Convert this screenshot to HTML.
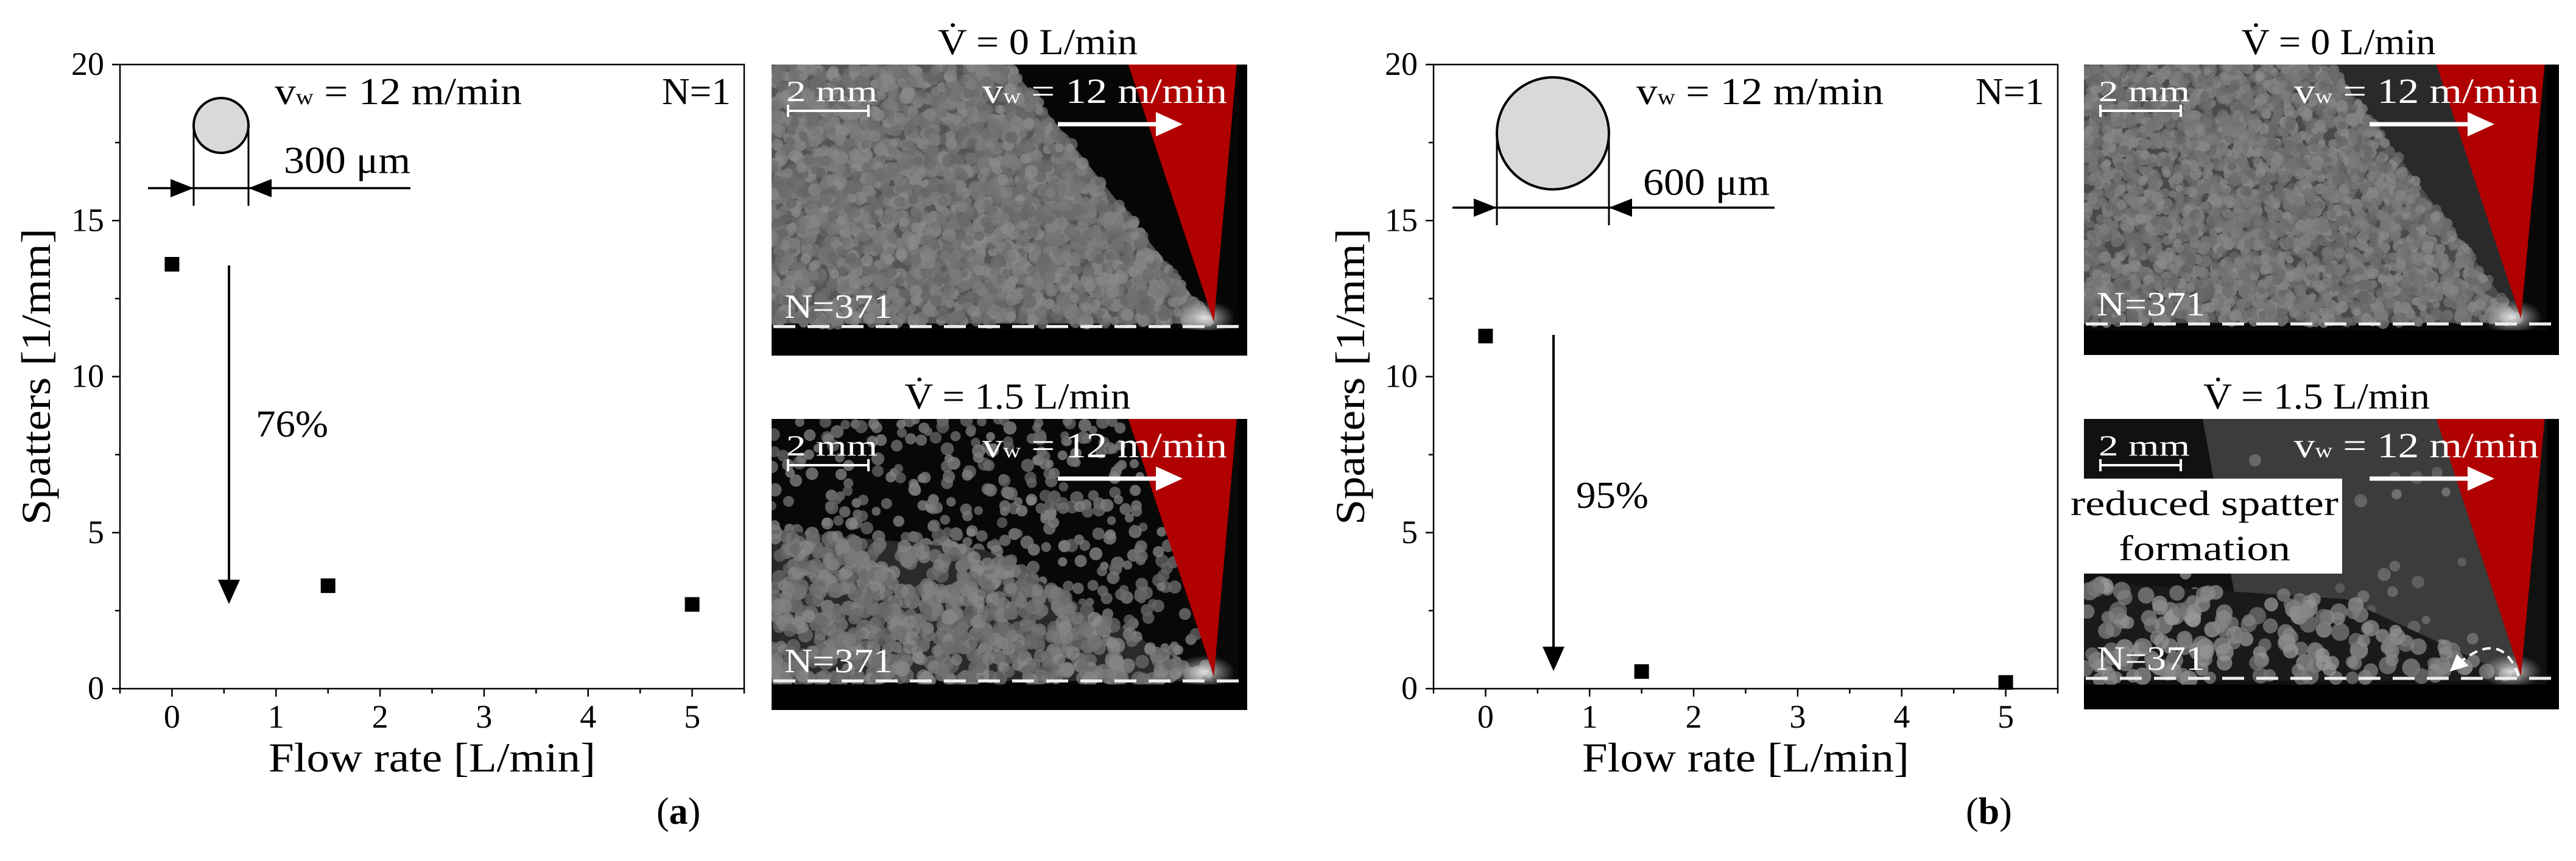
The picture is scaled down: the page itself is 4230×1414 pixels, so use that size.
<!DOCTYPE html>
<html><head><meta charset="utf-8">
<style>
html,body{margin:0;padding:0;background:#fff;}
svg{display:block;}
text{font-family:"Liberation Serif",serif;}
</style></head>
<body>
<svg id="fig" width="4230" height="1414" viewBox="0 0 4230 1414" xmlns="http://www.w3.org/2000/svg">
<defs>
<radialGradient id="glow" cx="50%" cy="50%" r="50%"><stop offset="0" stop-color="#eee" stop-opacity="0.9"/><stop offset="1" stop-color="#bbb" stop-opacity="0"/></radialGradient>
</defs>
</svg>
<script>
// ---- chart data ----
const flowRates = [0, 1.5, 5];
const spattersA = [13.6, 3.3, 2.7];
const spattersB = [11.3, 0.55, 0.2];
const xTicks = [0, 1, 2, 3, 4, 5];
const yTicks = [0, 5, 10, 15, 20];
const reductionA = "76%";
const reductionB = "95%";

const NS = "http://www.w3.org/2000/svg";
const svg = document.getElementById('fig');
function mk(tag, attrs, parent, txt){
  const e = document.createElementNS(NS, tag);
  for (const k in attrs) e.setAttribute(k, attrs[k]);
  if (txt !== undefined) e.textContent = txt;
  (parent || svg).appendChild(e);
  return e;
}
function fit(e, len){ e.setAttribute('textLength', len); e.setAttribute('lengthAdjust', 'spacingAndGlyphs'); }

function vwText(parent, x, y, size, fill, anchor, len){
  const t = mk('text', {x: x, y: y, 'font-size': size, fill: fill, 'text-anchor': anchor}, parent);
  
  
  mk('tspan', {}, t, 'v');
  mk('tspan', {'font-size': size * 0.58}, t, 'w');
  mk('tspan', {}, t, ' = 12 m/min');
  fit(t, len);
  return t;
}

function chart(L, R, T, B, vals, name, c, redTxt, redX, redY, arrowX, arrowTop, arrowBot, ytX) {
  const g = mk('g', {});
  
  
  const xs = v => L + (v + 0.5) / 6 * (R - L);
  const ys = v => B - v / 20 * (B - T);
  const ax = mk('rect', {x: L, y: T, width: R - L, height: B - T, fill: 'none', stroke: '#000', 'stroke-width': 2.5}, g);
  
  
  for (let v = -0.5; v <= 5.5001; v += 0.5) {
    const major = Math.abs(v - Math.round(v)) < 1e-6;
    mk('line', {x1: xs(v), x2: xs(v), y1: B, y2: B + (major ? 13 : 8), stroke: '#000', 'stroke-width': 2.5}, g);
  }
  xTicks.forEach(t => {
    const e = mk('text', {x: xs(t), y: B + 64, 'font-size': 54, 'text-anchor': 'middle'}, g, String(t));
    
    
  });
  for (let v = 0; v <= 20.001; v += 2.5) {
    const major = v % 5 === 0;
    mk('line', {x1: L, x2: L - (major ? 13 : 8), y1: ys(v), y2: ys(v), stroke: '#000', 'stroke-width': 2.5}, g);
  }
  yTicks.forEach(t => {
    const e = mk('text', {x: L - 26, y: ys(t) + 17, 'font-size': 54, 'text-anchor': 'end'}, g, String(t));
    
    
  });
  const xt = mk('text', {x: (L + R) / 2, y: B + 136, 'font-size': 68, 'text-anchor': 'middle'}, g, 'Flow rate [L/min]');
  fit(xt, 537);
  
  
  const yt = mk('text', {x: 0, y: 0, 'font-size': 68, 'text-anchor': 'middle', transform: `translate(${ytX},${(T + B) / 2}) rotate(-90)`}, g, 'Spatters [1/mm]');
  fit(yt, 487);
  
  
  flowRates.forEach((f, i) => {
    const m = mk('rect', {x: xs(f) - 12, y: ys(vals[i]) - 12, width: 24, height: 24, fill: '#000'}, g);
    
    
  });
  const ins = mk('g', {}, g);
  
  
  mk('line', {x1: c.cx - c.r, x2: c.cx - c.r, y1: c.cy, y2: c.lb, stroke: '#000', 'stroke-width': 3}, ins);
  mk('line', {x1: c.cx + c.r, x2: c.cx + c.r, y1: c.cy, y2: c.lb, stroke: '#000', 'stroke-width': 3}, ins);
  mk('circle', {cx: c.cx, cy: c.cy, r: c.r, fill: '#d9d9d9', stroke: '#000', 'stroke-width': 4}, ins);
  mk('line', {x1: c.hx1, x2: c.hx2, y1: c.hy, y2: c.hy, stroke: '#000', 'stroke-width': 3.5}, ins);
  const a = c.cx - c.r, b = c.cx + c.r;
  mk('polygon', {points: `${a},${c.hy} ${a-38},${c.hy-15} ${a-38},${c.hy+15}`, fill: '#000'}, ins);
  mk('polygon', {points: `${b},${c.hy} ${b+38},${c.hy-15} ${b+38},${c.hy+15}`, fill: '#000'}, ins);
  const dt = mk('text', {x: c.tx, y: c.ty, 'font-size': 62}, ins, c.label);
  fit(dt, 208);
  
  
  vwText(g, c.vx, 171, 62, '#000', 'start', 406);
  const n1 = mk('text', {x: R - 22, y: 171, 'font-size': 62, 'text-anchor': 'end'}, g, 'N=1');
  fit(n1, 113);
  
  
  const ar = mk('g', {}, g);
  
  
  mk('line', {x1: arrowX, x2: arrowX, y1: arrowTop, y2: arrowBot - 30, stroke: '#000', 'stroke-width': 4}, ar);
  mk('polygon', {points: `${arrowX},${arrowBot} ${arrowX-18},${arrowBot-40} ${arrowX+18},${arrowBot-40}`, fill: '#000'}, ar);
  const rt = mk('text', {x: redX, y: redY, 'font-size': 62}, g, redTxt);
  fit(rt, 119);
  
  
}

chart(197, 1222, 106, 1131, spattersA, 'spatter-chart-a',
  {cx: 363, cy: 206, r: 45, lb: 338, hy: 309, hx1: 243, hx2: 674, tx: 466, ty: 284, label: '300 μm', vx: 451},
  reductionA, 420, 717, 376, 436, 992, 82);
chart(2354, 3379, 106, 1131, spattersB, 'spatter-chart-b',
  {cx: 2550, cy: 219, r: 92, lb: 370, hy: 341, hx1: 2385, hx2: 2914, tx: 2698, ty: 320, label: '600 μm', vx: 2687},
  reductionB, 2588, 834, 2551, 550, 1102, 2240);

// ---- photo panels (decorative texture) ----
let seed = 7;
function rnd(){ seed = (seed * 16807) % 2147483647; return seed / 2147483647; }
function inPoly(x, y, p){ let c=false; for(let i=0,j=p.length-1;i<p.length;j=i++){ if(((p[i][1]>y)!=(p[j][1]>y)) && (x < (p[j][0]-p[i][0])*(y-p[i][1])/(p[j][1]-p[i][1])+p[i][0])) c=!c;} return c; }
function dots(inner, X, Y, W, H, poly, n, rmin, rmax, base, op){
  for (let i = 0; i < n; i++) {
    const fx = rnd(), fy = rnd();
    if (!inPoly(fx, fy, poly)) continue;
    const r = rmin + rnd() * (rmax - rmin);
    const l = Math.floor(base + rnd() * 40);
    mk('circle', {cx: X + fx * W, cy: Y + fy * H, r: r, fill: `rgb(${l},${l},${l})`, opacity: op}, inner);
  }
}

function photo(name, X, Y, W, H, o){
  const g = mk('g', {});
  
  
  const clipId = name + '-clip';
  const cp = mk('clipPath', {id: clipId}, g);
  mk('rect', {x: X, y: Y, width: W, height: H}, cp);
  const inner = mk('g', {'clip-path': `url(#${clipId})`}, g);
  const P = pts => pts.map(p => `${X+p[0]*W},${Y+p[1]*H}`).join(' ');
  mk('rect', {x: X, y: Y, width: W, height: H, fill: o.bg}, inner);
  if (o.haze) mk('polygon', {points: P(o.haze), fill: o.hazeCol}, inner);
  if (o.sparse) dots(inner, X, Y, W, H, o.sparse, o.sparseN, 7, 11, 95, 0.8);
  mk('polygon', {points: P(o.poly), fill: o.fill}, inner);
  dots(inner, X, Y, W, H, o.poly, o.n, o.rmin, o.rmax, o.base, 0.75);
  mk('ellipse', {cx: X + o.tip[0]*W - 15, cy: Y + o.tip[1]*H - 5, rx: 50, ry: 28, fill: 'url(#glow)'}, inner);
  const red = mk('polygon', {points: P(o.red), fill: '#b00000'}, inner);
  
  
  mk('rect', {x: X + o.red[1][0]*W + 4, y: Y, width: W, height: H, fill: '#000'}, inner);
  mk('rect', {x: X, y: Y + o.band*H, width: W, height: H*(1-o.band), fill: '#000'}, inner);
  mk('line', {x1: X + 3, x2: X + W - 5, y1: Y + o.dash*H, y2: Y + o.dash*H, stroke: '#eee', 'stroke-width': 5, 'stroke-dasharray': '36 20'}, inner);
  const sb = mk('g', {}, inner);
  
  
  const st = mk('text', {x: X + 24, y: Y + 60, 'font-size': 48, fill: '#fff'}, sb, '2 mm');
  fit(st, 150);
  mk('line', {x1: X + 27, x2: X + 159, y1: Y + 76, y2: Y + 76, stroke: '#fff', 'stroke-width': 4}, sb);
  mk('line', {x1: X + 27, x2: X + 27, y1: Y + 66, y2: Y + 86, stroke: '#fff', 'stroke-width': 4}, sb);
  mk('line', {x1: X + 159, x2: X + 159, y1: Y + 66, y2: Y + 86, stroke: '#fff', 'stroke-width': 4}, sb);
  vwText(inner, X + W - 33, Y + 63, 58, '#fff', 'end', 402);
  mk('line', {x1: X + W - 311, x2: X + W - 150, y1: Y + 98, y2: Y + 98, stroke: '#fff', 'stroke-width': 7}, inner);
  mk('polygon', {points: `${X+W-106},${Y+98} ${X+W-150},${Y+78} ${X+W-150},${Y+118}`, fill: '#fff'}, inner);
  const nt = mk('text', {x: X + 21, y: Y + o.dash*H - 14, 'font-size': 56, fill: '#fff'}, inner, 'N=371');
  fit(nt, 178);
  
  
  if (o.box) {
    mk('path', {d: `M ${X+0.915*W} ${Y+0.885*H} Q ${X+0.88*W} ${Y+0.72*H} ${X+0.79*W} ${Y+0.84*H}`, fill: 'none', stroke: '#fff', 'stroke-width': 4, 'stroke-dasharray': '14 9'}, inner);
    mk('polygon', {points: `${X+0.77*W},${Y+0.87*H} ${X+0.785*W},${Y+0.81*H} ${X+0.81*W},${Y+0.85*H}`, fill: '#fff'}, inner);
    const bx = mk('g', {}, g);
    
    
    mk('rect', {x: X - 28, y: Y + 98, width: 452, height: 156, fill: '#fff'}, bx);
    const t1 = mk('text', {x: X + 198, y: Y + 158, 'font-size': 58, 'text-anchor': 'middle'}, bx, 'reduced spatter');
    fit(t1, 440);
    const t2 = mk('text', {x: X + 198, y: Y + 232, 'font-size': 58, 'text-anchor': 'middle'}, bx, 'formation');
    fit(t2, 282);
  }
  const tt = mk('text', {x: o.tcx, y: Y - 17, 'font-size': 60, 'text-anchor': 'middle'}, g, 'V\u0307 = ' + o.title + ' L/min');
  fit(tt, o.tlen);
  
  
}

photo('photo-a-0', 1267, 106, 781, 478, {bg: '#060606', fill: '#555', poly: [[0,0],[0.5,0],[0.93,0.89],[0,0.89]], n: 4200, rmin: 7, rmax: 11, base: 100, red: [[0.75,0],[0.978,0],[0.93,0.885]], tip: [0.93,0.88], band: 0.912, dash: 0.90, title: '0', tcx: 1704, tlen: 328});
photo('photo-a-15', 1267, 688, 781, 478, {bg: '#080808', sparse: [[0,0],[0.75,0],[0.93,0.9],[0,0.9]], sparseN: 700, fill: '#2a2a2a', poly: [[0,0.38],[0.45,0.45],[0.93,0.9],[0,0.9]], n: 2200, rmin: 9, rmax: 13, base: 100, red: [[0.75,0],[0.978,0],[0.93,0.885]], tip: [0.93,0.88], band: 0.912, dash: 0.90, title: '1.5', tcx: 1671, tlen: 371});
photo('photo-b-0', 3422, 106, 780, 477, {bg: '#080808', haze: [[0.4,0],[0.75,0],[0.92,0.88],[0.6,0.88]], hazeCol: '#2a2a2a', fill: '#4a4a4a', poly: [[0,0],[0.52,0],[0.92,0.89],[0,0.89]], n: 5000, rmin: 6, rmax: 10, base: 100, red: [[0.742,0],[0.97,0],[0.92,0.875]], tip: [0.92,0.88], band: 0.915, dash: 0.893, title: '0', tcx: 3840, tlen: 319});
photo('photo-b-15', 3422, 688, 780, 477, {bg: '#111', haze: [[0.25,0],[0.8,0],[0.92,0.9],[0.35,0.9]], hazeCol: '#3c3c3c', sparse: [[0.2,0.1],[0.8,0.1],[0.9,0.8],[0.2,0.8]], sparseN: 120, fill: '#1a1a1a', poly: [[0,0.56],[0.55,0.62],[0.92,0.9],[0,0.9]], n: 900, rmin: 10, rmax: 15, base: 115, red: [[0.742,0],[0.97,0],[0.92,0.885]], tip: [0.92,0.88], band: 0.915, dash: 0.893, title: '1.5', tcx: 3804, tlen: 372, box: true});

const la = mk('text', {x: 1078, y: 1353, 'font-size': 62}, svg);


mk('tspan', {}, la, '(');
mk('tspan', {'font-weight': 'bold'}, la, 'a');
mk('tspan', {}, la, ')');
const lb = mk('text', {x: 3228, y: 1353, 'font-size': 62}, svg);


mk('tspan', {}, lb, '(');
mk('tspan', {'font-weight': 'bold'}, lb, 'b');
mk('tspan', {}, lb, ')');
</script>
</body></html>
